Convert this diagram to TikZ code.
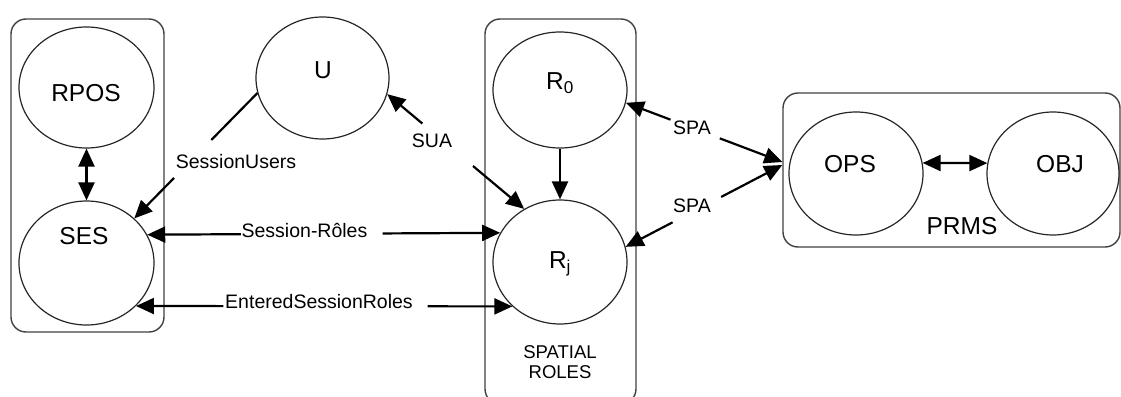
\documentclass[tikz,border=0pt]{standalone}
\usepackage{fontspec}
\setmainfont{Liberation Sans}
\usetikzlibrary{arrows.meta,calc,shapes.geometric}
\begin{document}
\begin{tikzpicture}[x=1pt,y=-1pt,
  nodefont/.style={font=\fontsize{24.5}{28}\selectfont, inner sep=0pt},
  lab/.style={font=\fontsize{19.5}{22}\selectfont, inner sep=0pt},
  oval/.style={draw=black!85, line width=1.2pt, ellipse, minimum width=135pt, minimum height=122pt, inner sep=0pt},
  group/.style={draw=black!75, line width=1.4pt, rounded corners=15pt, inner sep=0pt},
  conn/.style={line width=2.2pt, draw=black},
  onetip/.style={-{Triangle[length=18pt,width=16pt]}},
  twotips/.style={{Triangle[length=18pt,width=16pt]}-{Triangle[length=18pt,width=16pt]}}
]
\useasboundingbox (0,0) rectangle (1121,396);

% grouping boxes
\node[group, minimum width=153pt, minimum height=313pt] (sesbox) at (87.5,175.5) {};
\node[group, minimum width=151pt, minimum height=385pt] (spbox) at (560.5,211.5) {};
\node[group, minimum width=337pt, minimum height=154pt] (prms) at (951.5,170) {};

% entity ellipses
\node[oval, minimum height=121pt] (rpos) at (86.5,87.5) {};
\node[oval, minimum height=124pt] (ses) at (86.5,263) {};
\node[oval, minimum width=133pt] (u) at (322.5,78) {};
\node[oval, minimum width=134pt, minimum height=116pt] (r0) at (560,90) {};
\node[oval, minimum width=134pt, minimum height=124pt] (rj) at (560,262) {};
\node[oval, minimum width=134pt, minimum height=123pt] (ops) at (856,173.5) {};
\node[oval, minimum width=132pt, minimum height=123pt] (obj) at (1053,173.5) {};

% entity names
\node[nodefont] (rposT) at (86,93) {RPOS};
\node[nodefont] (sesT) at (84,236) {SES};
\node[nodefont] (uT) at (323,70) {U};
\node[nodefont] (r0T) at (560,83) {R\textsubscript{0}};
\node[nodefont] (rjT) at (560,264) {R\textsubscript{j}};
\node[nodefont] (opsT) at (850,164) {OPS};
\node[nodefont] (objT) at (1060,164) {OBJ};
\node[nodefont] (prmsT) at (962,226) {PRMS};
\node[font=\fontsize{18.5}{20}\selectfont, align=center, inner sep=0pt] (spT) at (560,362) {SPATIAL\\ROLES};

% plain connectors
\draw[conn,twotips] (rpos) -- (ses);
\draw[conn,onetip] (r0) -- (rj);
\draw[conn,twotips] (ops.9) -- (obj.171);

% SessionUsers
\coordinate (su1) at ($(u.193.5)!0.374!(ses.43.4)$);
\coordinate (su2) at ($(u.193.5)!0.677!(ses.43.4)$);
\draw[conn] (u.193.5) -- (su1);
\draw[conn,onetip] (su2) -- (ses.43.4);
\node[lab] (suL) at (236,162) {SessionUsers};

% SUA
\coordinate (sua1) at ($(u.-14)!0.256!(rj.124)$);
\coordinate (sua2) at ($(u.-14)!0.626!(rj.124)$);
\draw[conn,onetip] (sua1) -- (u.-14);
\draw[conn,onetip] (sua2) -- (rj.124);
\node[lab] (suaL) at (432,141) {SUA};

% Session-Roles
\coordinate (sr1) at ($(ses.25.9)!0.265!(rj.154.9)$);
\coordinate (sr2) at ($(ses.25.9)!0.667!(rj.154.9)$);
\draw[conn,onetip] (sr1) -- (ses.25.9);
\draw[conn,onetip] (sr2) -- (rj.154.9);
\node[lab] (srL) at (304.5,230) {Session-Rôles};

% EnteredSessionRoles
\coordinate (er1) at ($(ses.-41.5)!0.232!(rj.-137)$);
\coordinate (er2) at ($(ses.-41.5)!0.775!(rj.-137)$);
\draw[conn,onetip] (er1) -- (ses.-41.5);
\draw[conn,onetip] (er2) -- (rj.-137);
\node[lab] (erL) at (319,302) {EnteredSessionRoles};

% SPA links to the permissions group
\coordinate (spaT) at ([yshift=8pt]prms.west);
\coordinate (spaB) at ([yshift=5pt]prms.west);
\coordinate (spa1) at ($(spaT)!0.40!(r0.-11.3)$);
\coordinate (spa2) at ($(spaT)!0.715!(r0.-11.3)$);
\draw[conn,onetip] (spa1) -- (spaT);
\draw[conn,onetip] (spa2) -- (r0.-11.3);
\node[lab] (spaL1) at (692,128) {SPA};
\coordinate (spb1) at ($(spaB)!0.39!(rj.13)$);
\coordinate (spb2) at ($(spaB)!0.70!(rj.13)$);
\draw[conn,onetip] (spb1) -- (spaB);
\draw[conn,onetip] (spb2) -- (rj.13);
\node[lab] (spaL2) at (692,206) {SPA};
\end{tikzpicture}
\end{document}
